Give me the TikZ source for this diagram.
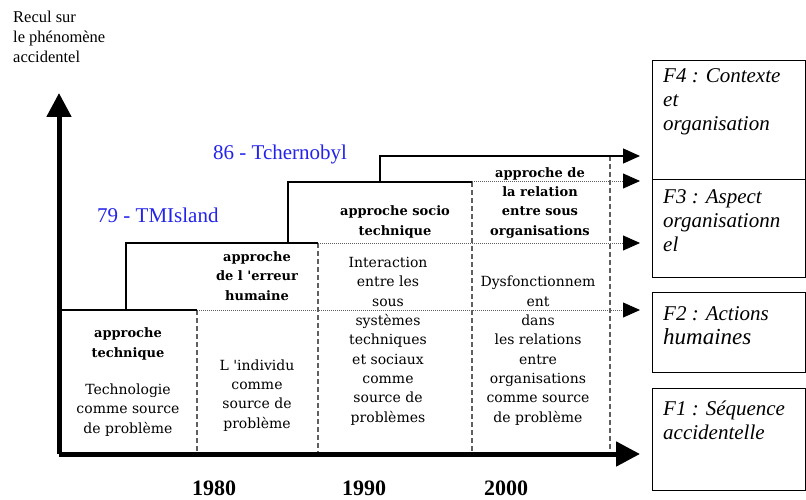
\documentclass[tikz,border=0pt]{standalone}
\usepackage{fontspec}
\setmainfont{Liberation Serif}
\newfontfamily\phasefont{DejaVu Serif}
\usetikzlibrary{arrows.meta}

\definecolor{eventblue}{RGB}{35,35,235}
\definecolor{gridgray}{RGB}{95,95,95}

\tikzset{
  axis/.style={line width=5pt, -{Triangle[length=24pt,width=24pt]}},
  stair/.style={line width=1.3pt},
  stairtip/.style={stair, -{Triangle[length=17pt,width=15pt]}},
  dotline/.style={gridgray, line width=0.8pt, dash pattern=on 1pt off 1pt, -{Triangle[length=17pt,width=15pt,color=black]}},
  dashline/.style={gridgray, line width=1.2pt, dash pattern=on 5pt off 3pt},
  phase/.style={font={\phasefont\bfseries\fontsize{13}{19.2}\selectfont}, align=center, anchor=base, inner sep=0pt},
  descr/.style={font={\phasefont\fontsize{14}{19.3}\selectfont}, align=center, anchor=base, inner sep=0pt},
  event/.style={font={\fontsize{21}{24}\selectfont}, text=eventblue, anchor=base west, inner sep=0pt},
  year/.style={font={\bfseries\fontsize{22}{24}\selectfont}, anchor=base, inner sep=0pt},
  fbox/.style={draw, line width=1.2pt, anchor=north west, minimum width=153pt, inner sep=0pt},
  ftext/.style={font={\itshape\fontsize{21}{24}\selectfont}, align=left, anchor=base west, inner sep=0pt}
}

\begin{document}
\begin{tikzpicture}[x=1pt, y=-1pt]
    \useasboundingbox (0,0) rectangle (806,500);

    % Key points of the time axis
    \coordinate (orig) at (59,454);
    \coordinate (ytop) at (59,93);
    \coordinate (xend) at (640,454);

    % Axis label (base = last line)
    \node[font={\fontsize{16.5}{20}\selectfont}, align=left, anchor=base west, inner sep=0pt]
        (recul) at (13,63) {Recul sur\\le phénomène\\accidentel};

    % Dashed separations between periods
    \draw[dashline] (197,310) -- (197,454);
    \draw[dashline] (318,243) -- (318,454);
    \draw[dashline] (472,182) -- (472,454);
    \draw[dashline] (610,156) -- (610,454);

    % Dotted continuations with arrows
    \draw[dotline] (197,310) -- (640,310);
    \draw[dotline] (318,243) -- (640,243);
    \draw[dotline] (472,181) -- (640,181);

    % Stairs of the successive approaches
    \draw[stair] (59,310) -- (197,310);
    \draw[stair] (126,310) -- (126,243) -- (318,243);
    \draw[stair] (288,243) -- (288,182) -- (472,182);
    \draw[stairtip] (380,182) -- (380,156) -- (640,156);

    % Axes
    \draw[axis] (orig) -- (ytop);
    \draw[axis] (orig) -- (xend);

    % Accidents
    \node[event] (tmi) at (97,222) {79 - TMIsland};
    \node[event] (tcher) at (213,160) {86 - Tchernobyl};

    % Approaches
    \node[phase] (ph1) at (128,357) {approche\\technique};
    \node[descr] (de1) at (128,433) {Technologie\\comme source\\de problème};
    \node[phase] (ph2) at (257,300) {approche\\de l 'erreur\\humaine};
    \node[descr] (de2) at (257,428) {L 'individu\\comme\\source de\\problème};
    \node[phase] (ph3) at (395,235) {approche socio\\technique};
    \node[descr] (de3) at (388,422) {Interaction\\entre les\\sous\\systèmes\\techniques\\et sociaux\\comme\\source de\\problèmes};
    \node[phase] (ph4) at (540,235) {approche de\\la relation\\entre sous\\organisations};
    \node[descr] (de4) at (538,422) {Dysfonctionnem\\ent\\dans\\les relations\\entre\\organisations\\comme source\\de problème};

    % Years
    \node[year] (y80) at (214,495) {1980};
    \node[year] (y90) at (364,495) {1990};
    \node[year] (y00) at (506,495) {2000};

    % Factors
    \node[fbox, minimum height=119pt] (f4) at (652,60) {};
    \node[fbox, minimum height=98pt] (f3) at (652,179) {};
    \node[fbox, minimum height=80pt] (f2) at (652,292) {};
    \node[fbox, minimum height=102pt] (f1) at (652,388) {};
    \node[ftext] (f4t) at (663,131) {F4 : Contexte\\et\\organisation};
    \node[ftext] (f3t) at (663,251) {F3 : Aspect\\organisationn\\el};
    \node[ftext] (f2t) at (663,344) {F2 : Actions\\{\fontsize{23}{24}\selectfont humaines}};
    \node[ftext] (f1t) at (663,439) {F1 : Séquence\\accidentelle};
\end{tikzpicture}
\end{document}
